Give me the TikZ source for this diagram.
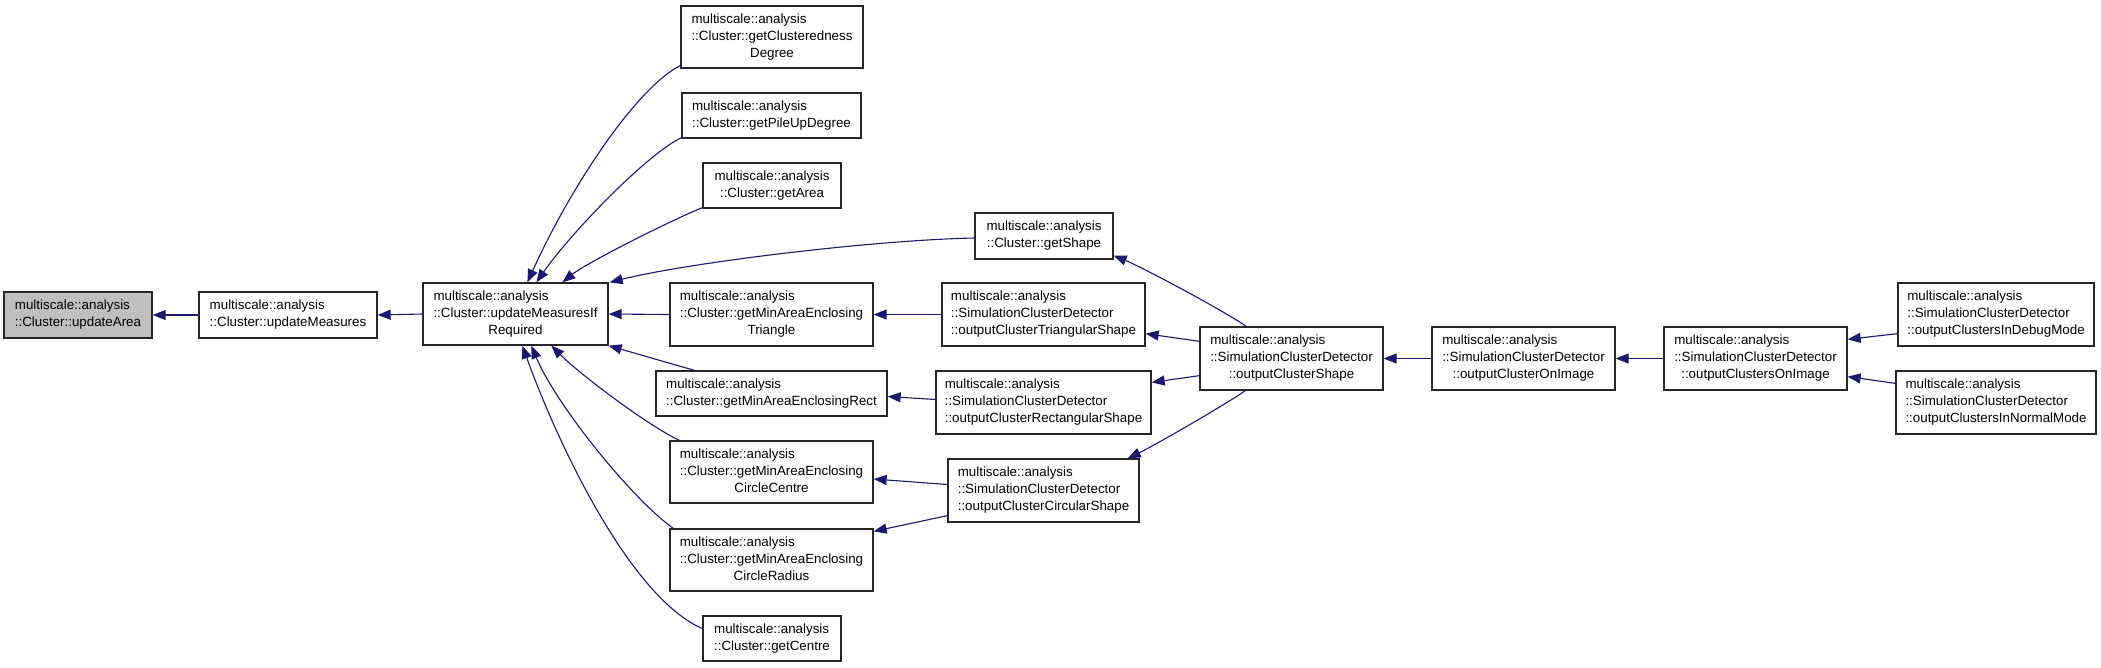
\documentclass[tikz,border=0pt]{standalone}
\usepackage{fontspec}
\setmainfont{Liberation Sans}
\usetikzlibrary{calc,arrows.meta}
\definecolor{edgeblue}{HTML}{191970}
\definecolor{rootgray}{HTML}{BFBFBF}
\newcommand{\ctrline}[1]{\multicolumn{1}{@{}c@{}}{#1}}
\newcommand{\boxtext}[1]{\begin{tabular}{@{}l@{}}#1\end{tabular}}
\begin{document}
\begin{tikzpicture}[x=1pt,y=-1pt,
  fn/.style={draw=black!85, line width=1.3pt, fill=white, inner sep=0pt,
    font=\fontsize{13.35}{17}\selectfont},
  edge/.style={draw=edgeblue, line width=1.1pt, -{Triangle[length=13pt,width=10pt]}}]
\useasboundingbox (0,0) rectangle (2101,667);
\fill[white] (0,0) rectangle (2101,667);
% nodes
\node[fn, fill=rootgray, minimum width=148pt, minimum height=46pt] (ua) at (78,315)
  {\boxtext{multiscale::analysis\\\ctrline{::Cluster::updateArea}}};
\node[fn, minimum width=178pt, minimum height=46pt] (um) at (288,315)
  {\boxtext{multiscale::analysis\\\ctrline{::Cluster::updateMeasures}}};
\node[fn, minimum width=185pt, minimum height=62pt] (n3) at (515.5,314)
  {\boxtext{multiscale::analysis\\::Cluster::updateMeasuresIf\\\ctrline{Required}}};
\node[fn, minimum width=182pt, minimum height=62pt] (gcd) at (772,37)
  {\boxtext{multiscale::analysis\\::Cluster::getClusteredness\\\ctrline{Degree}}};
\node[fn, minimum width=179pt, minimum height=45pt] (gpu) at (771.5,115.5)
  {\boxtext{multiscale::analysis\\\ctrline{::Cluster::getPileUpDegree}}};
\node[fn, minimum width=138pt, minimum height=45pt] (ga) at (772,185.5)
  {\boxtext{multiscale::analysis\\\ctrline{::Cluster::getArea}}};
\node[fn, minimum width=203pt, minimum height=63pt] (tri) at (771.5,314.5)
  {\boxtext{multiscale::analysis\\::Cluster::getMinAreaEnclosing\\\ctrline{Triangle}}};
\node[fn, minimum width=231pt, minimum height=45pt] (rect) at (771.5,393.5)
  {\boxtext{multiscale::analysis\\\ctrline{::Cluster::getMinAreaEnclosingRect}}};
\node[fn, minimum width=203pt, minimum height=62pt] (cc) at (771.5,472)
  {\boxtext{multiscale::analysis\\::Cluster::getMinAreaEnclosing\\\ctrline{CircleCentre}}};
\node[fn, minimum width=203pt, minimum height=62pt] (cr) at (771.5,560)
  {\boxtext{multiscale::analysis\\::Cluster::getMinAreaEnclosing\\\ctrline{CircleRadius}}};
\node[fn, minimum width=138pt, minimum height=45pt] (gc) at (772,638.5)
  {\boxtext{multiscale::analysis\\\ctrline{::Cluster::getCentre}}};
\node[fn, minimum width=138pt, minimum height=46pt] (gs) at (1044,236)
  {\boxtext{multiscale::analysis\\\ctrline{::Cluster::getShape}}};
\node[fn, minimum width=203pt, minimum height=63pt] (oct) at (1043.5,314.5)
  {\boxtext{multiscale::analysis\\::SimulationClusterDetector\\\ctrline{::outputClusterTriangularShape}}};
\node[fn, minimum width=215pt, minimum height=63pt] (ocr) at (1043.5,402.5)
  {\boxtext{multiscale::analysis\\::SimulationClusterDetector\\\ctrline{::outputClusterRectangularShape}}};
\node[fn, minimum width=191pt, minimum height=63pt] (occ) at (1043.5,490.5)
  {\boxtext{multiscale::analysis\\::SimulationClusterDetector\\\ctrline{::outputClusterCircularShape}}};
\node[fn, minimum width=183pt, minimum height=63pt] (ocs) at (1291.5,358.5)
  {\boxtext{multiscale::analysis\\::SimulationClusterDetector\\\ctrline{::outputClusterShape}}};
\node[fn, minimum width=183pt, minimum height=63pt] (ocoi) at (1523.5,358.5)
  {\boxtext{multiscale::analysis\\::SimulationClusterDetector\\\ctrline{::outputClusterOnImage}}};
\node[fn, minimum width=183pt, minimum height=63pt] (ocsoi) at (1755.5,358.5)
  {\boxtext{multiscale::analysis\\::SimulationClusterDetector\\\ctrline{::outputClustersOnImage}}};
\node[fn, minimum width=196pt, minimum height=63pt] (dbg) at (1996,314.5)
  {\boxtext{multiscale::analysis\\::SimulationClusterDetector\\\ctrline{::outputClustersInDebugMode}}};
\node[fn, minimum width=200pt, minimum height=63pt] (nrm) at (1996,402.5)
  {\boxtext{multiscale::analysis\\::SimulationClusterDetector\\\ctrline{::outputClustersInNormalMode}}};
% edges
\draw[edge] (um.west) -- (ua.east);
\draw[edge] (n3.west) -- (um.east);
\draw[edge] ($(gcd.south west)+(0,-3)$) .. controls +(-41,20) and +(47,-103) .. ($(n3.north west)+(105,0)$);
\draw[edge] ($(gpu.south west)+(0,-1)$) .. controls +(-35,17) and +(35,-50) .. ($(n3.north west)+(114,0)$);
\draw[edge] ($(ga.south west)+(0,-1)$) .. controls +(-30,12) and +(25,-20) .. ($(n3.north west)+(140,0)$);
\draw[edge] ($(gs.west)+(0,2)$) .. controls +(-100,2) and +(80,-20) .. ($(n3.north east)+(1,0)$);
\draw[edge] (tri.west) -- (n3.east);
\draw[edge] ($(rect.north west)+(39,0)$) -- (n3.south east);
\draw[edge] ($(cc.north west)+(10,0)$) .. controls +(-30,-14) and +(30,30) .. ($(n3.south west)+(129,0)$);
\draw[edge] ($(cr.north west)+(4,0)$) .. controls +(-40,-28) and +(25,60) .. ($(n3.south west)+(109,0)$);
\draw[edge] ($(gc.west)+(0,-10)$) .. controls +(-70,-30) and +(38,105) .. ($(n3.south west)+(100,0)$);
\draw[edge] (oct.west) -- (tri.east);
\draw[edge] ($(ocr.west)+(0,-3)$) -- ($(rect.east)+(0,3)$);
\draw[edge] ($(occ.west)+(0,-6)$) -- ($(cc.east)+(0,7)$);
\draw[edge] ($(occ.south west)+(0,-7)$) -- ($(cr.north east)+(0,3)$);
\draw[edge] ($(ocs.north west)+(47,0)$) .. controls +(-30,-20) and +(25,10) .. ($(gs.south east)+(0,-4)$);
\draw[edge] ($(ocs.north west)+(0,15)$) -- ($(oct.south east)+(0,-13)$);
\draw[edge] ($(ocs.south west)+(0,-15)$) -- ($(ocr.north east)+(0,12)$);
\draw[edge] ($(ocs.south west)+(46,0)$) .. controls +(-25,17) and +(25,-12) .. ($(occ.north east)+(-12,0)$);
\draw[edge] (ocoi.west) -- (ocs.east);
\draw[edge] (ocsoi.west) -- (ocoi.east);
\draw[edge] ($(dbg.south west)+(0,-13)$) -- ($(ocsoi.north east)+(0,13)$);
\draw[edge] ($(nrm.north west)+(0,13)$) -- ($(ocsoi.south east)+(0,-14)$);
\end{tikzpicture}
\end{document}
